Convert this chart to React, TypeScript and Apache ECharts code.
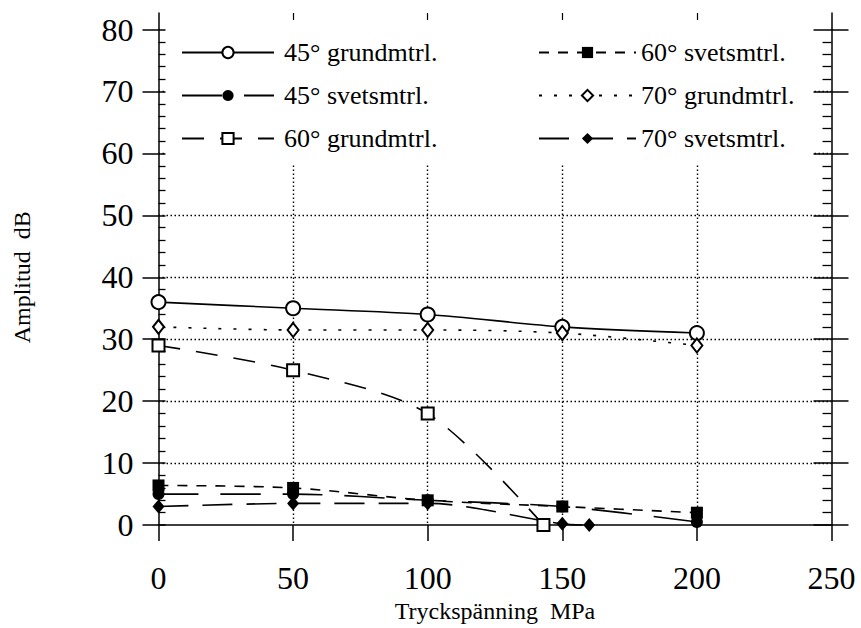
import React, { useEffect, useRef } from 'react';
import * as echarts from 'echarts';

// ---- data ----
const xCategories = [0, 50, 100, 150, 200];
const grund45 = [36, 35, 34, 32, 31];
const svets45 = [5, 5, 4, 3, 0.5];
const grund60X = [0, 50, 100, 143];
const grund60 = [29, 25, 18, 0];
const svets60 = [6.4, 6, 4, 3, 2];
const grund70 = [32, 31.5, 31.5, 31, 29];
const svets70X = [0, 50, 100, 150, 160];
const svets70 = [3, 3.5, 3.5, 0.2, 0];
const seriesNames = [
  '45° grundmtrl.',
  '45° svetsmtrl.',
  '60° grundmtrl.',
  '60° svetsmtrl.',
  '70° grundmtrl.',
  '70° svetsmtrl.',
];
const xAxisTitle = 'Tryckspänning  MPa';
const yAxisTitle = 'Amplitud  dB';

const FONT = "'Liberation Serif', 'Times New Roman', serif";
const BLACK = '#000';

const pairs = (xs: number[], ys: number[]) => xs.map((x, i) => [x, ys[i]]);

function makeSeries(name: string, data: number[][], symbol: string, size: any, dash: any, empty: boolean) {
  return {
    name,
    type: 'line',
    data,
    symbol,
    symbolSize: size,
    smooth: 0.3,
    xAxisIndex: 0,
    yAxisIndex: 0,
    z: 3,
    lineStyle: { color: BLACK, width: 1.6, type: dash },
    itemStyle: empty
      ? { color: BLACK, borderColor: BLACK, borderWidth: 1.4 }
      : { color: BLACK, borderWidth: 0 },
  };
}

export default function App() {
  const ref = useRef<HTMLDivElement>(null);

  useEffect(() => {
    if (!ref.current) return;
    const chart = echarts.init(ref.current, null, { renderer: 'svg' });

    const L = 158.5;
    const R = 29.5;
    const T = 29.5;
    const B = 96.5;

    const dotted = { color: BLACK, width: 1.4, type: [1.5, 2.5] as any };

    const legendText = {
      fontFamily: FONT,
      fontSize: 26,
      color: BLACK,
      lineHeight: 25,
    };

    const option: any = {
      animation: false,
      backgroundColor: '#fff',
      textStyle: { fontFamily: FONT, color: BLACK },
      grid: [
        { left: L, right: R, top: T, bottom: B },
        { left: L, right: R, top: 13, height: T - 13 },
      ],
      legend: [
        {
          data: seriesNames.slice(0, 3),
          orient: 'vertical',
          left: 181,
          top: 39.5,
          padding: 0,
          itemWidth: 92,
          itemHeight: 14,
          itemGap: 17,
          selectedMode: false,
          textStyle: { ...legendText, padding: [0, 0, 0, 5] },
        },
        {
          data: seriesNames.slice(3),
          orient: 'vertical',
          left: 538,
          top: 39.5,
          padding: 0,
          itemWidth: 97,
          itemHeight: 14,
          itemGap: 17,
          selectedMode: false,
          textStyle: { ...legendText },
        },
      ],
      xAxis: [
        {
          type: 'value',
          gridIndex: 0,
          min: 0,
          max: 250,
          interval: 50,
          name: xAxisTitle,
          nameLocation: 'middle',
          nameGap: 55,
          nameTextStyle: { fontFamily: FONT, fontSize: 24, color: BLACK },
          axisLine: { show: true, onZero: false, lineStyle: { color: BLACK, width: 1.5 } },
          axisTick: { show: true, inside: false, length: 16, lineStyle: { color: BLACK, width: 1.5 } },
          axisLabel: { fontFamily: FONT, fontSize: 32, color: BLACK, margin: 37 },
          splitLine: { show: true, showMinLine: false, showMaxLine: false, lineStyle: dotted },
        },
        {
          type: 'value',
          gridIndex: 1,
          min: 0,
          max: 250,
          interval: 50,
          axisLine: { show: false },
          axisTick: { show: false },
          axisLabel: { show: false },
          splitLine: {
            show: true,
            showMinLine: false,
            showMaxLine: false,
            lineStyle: { color: BLACK, width: 1.2, type: 'solid' },
          },
        },
      ],
      yAxis: [
        {
          type: 'value',
          gridIndex: 0,
          position: 'left',
          min: 0,
          max: 80,
          interval: 10,
          name: yAxisTitle,
          nameLocation: 'middle',
          nameGap: 125,
          nameTextStyle: { fontFamily: FONT, fontSize: 24, color: BLACK },
          axisLine: { show: true, lineStyle: { color: BLACK, width: 1.5 } },
          axisTick: { show: true, inside: false, length: 16, lineStyle: { color: BLACK, width: 1.5 } },
          axisLabel: { fontFamily: FONT, fontSize: 32, color: BLACK, margin: 25 },
          splitLine: { show: true, showMinLine: false, showMaxLine: false, lineStyle: dotted },
        },
        {
          type: 'value',
          gridIndex: 0,
          position: 'left',
          min: 0,
          max: 80,
          interval: 10,
          axisLine: { show: false },
          axisTick: { show: true, inside: true, length: 7, lineStyle: { color: BLACK, width: 1.5 } },
          minorTick: { show: true, splitNumber: 5, length: 7, lineStyle: { color: BLACK, width: 1.3 } },
          axisLabel: { show: false },
          splitLine: { show: false },
        },
        {
          type: 'value',
          gridIndex: 0,
          position: 'right',
          min: 0,
          max: 80,
          interval: 10,
          axisLine: { show: true, lineStyle: { color: BLACK, width: 1.5 } },
          axisTick: { show: true, inside: false, length: 17, lineStyle: { color: BLACK, width: 1.5 } },
          axisLabel: { show: false },
          splitLine: { show: false },
        },
        {
          type: 'value',
          gridIndex: 0,
          position: 'right',
          min: 0,
          max: 80,
          interval: 10,
          axisLine: { show: false },
          axisTick: { show: true, inside: true, length: 18, lineStyle: { color: BLACK, width: 1.5 } },
          minorTick: { show: true, splitNumber: 5, length: 9, lineStyle: { color: BLACK, width: 1.3 } },
          axisLabel: { show: false },
          splitLine: { show: false },
        },
        {
          type: 'value',
          gridIndex: 1,
          position: 'left',
          min: 0,
          max: 1,
          axisLine: { show: true, lineStyle: { color: BLACK, width: 1.5 } },
          axisTick: { show: false },
          axisLabel: { show: false },
          splitLine: { show: false },
        },
        {
          type: 'value',
          gridIndex: 1,
          position: 'right',
          min: 0,
          max: 1,
          axisLine: { show: true, lineStyle: { color: BLACK, width: 1.5 } },
          axisTick: { show: false },
          axisLabel: { show: false },
          splitLine: { show: false },
        },
      ],
      graphic: [
        {
          type: 'rect',
          z: 1,
          silent: true,
          shape: { x: 166, y: 20, width: 646, height: 145 },
          style: { fill: '#fff' },
        },
      ],
      series: [
        makeSeries(seriesNames[0], pairs(xCategories, grund45), 'emptyCircle', 14, 'solid', true),
        makeSeries(seriesNames[1], pairs(xCategories, svets45), 'circle', 12, [40, 22], false),
        makeSeries(seriesNames[2], pairs(grund60X, grund60), 'emptyRect', 12, [22, 16], true),
        makeSeries(seriesNames[3], pairs(xCategories, svets60), 'rect', 12, [10, 9], false),
        makeSeries(seriesNames[4], pairs(xCategories, grund70), 'emptyDiamond', [11, 14], [3, 12], true),
        makeSeries(seriesNames[5], pairs(svets70X, svets70), 'diamond', [12, 14], [30, 14], false),
      ],
    };

    chart.setOption(option);
    return () => chart.dispose();
  }, []);

  return (
    <div
      ref={ref}
      style={{ position: 'absolute', left: 0, top: 0, width: 861, height: 628 }}
    />
  );
}
